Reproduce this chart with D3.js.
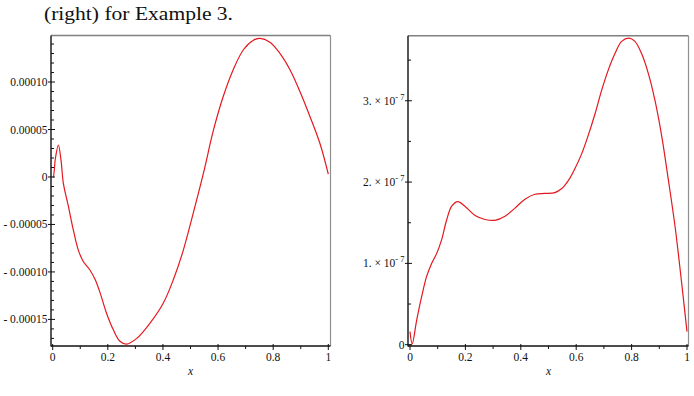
<!DOCTYPE html>
<html>
<head>
<meta charset="utf-8">
<script src="https://cdn.jsdelivr.net/npm/d3@7/dist/d3.min.js"></script>
<style>
  html, body { margin: 0; padding: 0; background: #fff; }
  svg { display: block; }
  text { font-family: "Liberation Serif", "Times New Roman", serif; fill: #111; }
</style>
</head>
<body>
<svg id="chart" width="694" height="396"></svg>
<script>
// ---------------- data ----------------
const captionText = "(right) for Example 3.";

// left panel: error curve
const leftX = [0, 0.002, 0.01, 0.0206, 0.03, 0.0387, 0.057, 0.075, 0.093, 0.111, 0.135, 0.154, 0.172, 0.196, 0.22, 0.244, 0.268,
  0.305, 0.353, 0.401, 0.438, 0.474, 0.51, 0.547, 0.583, 0.619, 0.655, 0.692, 0.728, 0.752, 0.788, 0.825, 0.861, 0.897, 0.933, 0.97, 1.0];
const leftY = [0, 0, 2.0e-5, 3.37e-5, 1.8e-5, -0.67e-5, -3.1e-5, -5.6e-5, -7.7e-5, -8.9e-5, -9.8e-5, -10.8e-5, -12.2e-5, -14.4e-5, -16.1e-5, -17.3e-5, -17.6e-5,
  -17.0e-5, -15.4e-5, -13.3e-5, -10.8e-5, -7.7e-5, -3.8e-5, 0.4e-5, 4.9e-5, 8.5e-5, 11.3e-5, 13.4e-5, 14.4e-5, 14.6e-5, 14.2e-5, 13.0e-5, 11.3e-5, 9.0e-5, 6.4e-5, 3.5e-5, 0.3e-5];

// right panel: error curve
const rightX = [0, 0.008, 0.024, 0.042, 0.06, 0.078, 0.096, 0.114, 0.132, 0.15, 0.172, 0.199, 0.235, 0.271, 0.307, 0.343, 0.379, 0.415, 0.451, 0.487, 0.523,
  0.548, 0.572, 0.596, 0.62, 0.644, 0.668, 0.692, 0.716, 0.74, 0.764, 0.791, 0.812, 0.836, 0.86, 0.884, 0.909, 0.933, 0.957, 0.981, 1.0];
const rightY = [0.16e-7, 0.01e-7, 0.30e-7, 0.59e-7, 0.84e-7, 1.0e-7, 1.12e-7, 1.29e-7, 1.53e-7, 1.70e-7, 1.76e-7, 1.70e-7, 1.59e-7, 1.54e-7, 1.53e-7, 1.58e-7, 1.68e-7, 1.79e-7, 1.85e-7, 1.86e-7, 1.87e-7,
  1.92e-7, 2.02e-7, 2.17e-7, 2.35e-7, 2.58e-7, 2.84e-7, 3.13e-7, 3.38e-7, 3.58e-7, 3.73e-7, 3.77e-7, 3.73e-7, 3.58e-7, 3.34e-7, 3.01e-7, 2.56e-7, 2.02e-7, 1.45e-7, 0.75e-7, 0.16e-7];

// ticks
const xMajorTicks = [0, 0.2, 0.4, 0.6, 0.8, 1];
const xMajorLabels = ["0", "0.2", "0.4", "0.6", "0.8", "1"];
const xMinorTicks = [0.1, 0.3, 0.5, 0.7, 0.9];
const leftYMajorTicks = [-0.00015, -0.0001, -0.00005, 0, 0.00005, 0.0001];
const leftYMajorLabels = ["- 0.00015", "- 0.00010", "- 0.00005", "0", "0.00005", "0.00010"];
const leftYMinorTicks = [-0.00017, -0.00016, -0.00014, -0.00013, -0.00012, -0.00011, -0.00009, -0.00008, -0.00007, -0.00006,
  -0.00004, -0.00003, -0.00002, -0.00001, 0.00001, 0.00002, 0.00003, 0.00004, 0.00006, 0.00007, 0.00008, 0.00009, 0.00011, 0.00012, 0.00013, 0.00014];
const rightYMajorTicks = [0, 1e-7, 2e-7, 3e-7];
const rightYMantissa = ["0", "1.", "2.", "3."];
const rightYExponent = "-7";
const rightYMinorTicks = [0.5e-7, 1.5e-7, 2.5e-7, 3.5e-7];
const xAxisTitle = "x";

// ---------------- drawing ----------------
const svg = d3.select("#chart");
const curveColor = "#e3191f";
const tickFont = "11.5px";

svg.append("text")
  .attr("x", 44).attr("y", 20)
  .attr("textLength", 189).attr("lengthAdjust", "spacingAndGlyphs")
  .style("font-size", "19px")
  .text(captionText);

function panel(opts) {
  const g = svg.append("g");
  const x = d3.scaleLinear().domain([0, 1]).range([opts.x0, opts.x1]);
  const y = d3.scaleLinear().domain(opts.yDomain).range([opts.bottom, opts.top]);
  const bl = opts.boxLeft, br = opts.boxRight;

  // box: top/right grey
  g.append("line").attr("x1", bl).attr("x2", br).attr("y1", opts.top).attr("y2", opts.top)
    .attr("stroke", "#808080").attr("stroke-width", 1.4);
  g.append("line").attr("x1", br).attr("x2", br).attr("y1", opts.top).attr("y2", opts.bottom)
    .attr("stroke", "#909090").attr("stroke-width", 1.2);

  // curve
  const line = d3.line().x(d => x(d[0])).y(d => y(d[1])).curve(d3.curveCatmullRom.alpha(0.5));
  const pts = opts.xs.map((v, i) => [v, opts.ys[i]]);
  g.append("path").datum(pts).attr("d", line)
    .attr("fill", "none").attr("stroke", curveColor).attr("stroke-width", 1.2);

  // left axis
  g.append("line").attr("x1", bl).attr("x2", bl).attr("y1", opts.top).attr("y2", opts.bottom + 0.5)
    .attr("stroke", "#111").attr("stroke-width", 1.4);
  g.selectAll(".ymin").data(opts.yMinor).enter().append("line")
    .attr("x1", bl).attr("x2", bl + 3).attr("y1", d => y(d)).attr("y2", d => y(d))
    .attr("stroke", "#111").attr("stroke-width", 1);
  g.selectAll(".ymaj").data(opts.yMajor).enter().append("line")
    .attr("x1", bl - 3).attr("x2", bl + 4).attr("y1", d => y(d)).attr("y2", d => y(d))
    .attr("stroke", "#111").attr("stroke-width", 1);

  // bottom axis
  g.append("line").attr("x1", bl).attr("x2", br).attr("y1", opts.bottom).attr("y2", opts.bottom)
    .attr("stroke", "#111").attr("stroke-width", 1.4);
  g.selectAll(".xmin").data(xMinorTicks).enter().append("line")
    .attr("x1", d => x(d)).attr("x2", d => x(d)).attr("y1", opts.bottom).attr("y2", opts.bottom + 3)
    .attr("stroke", "#111").attr("stroke-width", 1);
  g.selectAll(".xmaj").data(xMajorTicks).enter().append("line")
    .attr("x1", d => x(d)).attr("x2", d => x(d)).attr("y1", opts.bottom - 2).attr("y2", opts.bottom + 4)
    .attr("stroke", "#111").attr("stroke-width", 1);
  g.selectAll(".xlab").data(xMajorTicks).enter().append("text")
    .attr("x", d => x(d)).attr("y", opts.bottom + 15)
    .attr("text-anchor", "middle").style("font-size", tickFont)
    .text((d, i) => xMajorLabels[i]);
  g.append("text").attr("x", (x(0) + x(1)) / 2).attr("y", opts.bottom + 29)
    .attr("text-anchor", "middle").style("font-size", tickFont).style("font-style", "italic")
    .text(xAxisTitle);

  opts.yLabel(g, y, bl);
}

panel({
  x0: 52.7, x1: 328.3, boxLeft: 51, boxRight: 330.5, top: 35.5, bottom: 346,
  yDomain: [-0.000178, 0.000149],
  xs: leftX, ys: leftY, yMajor: leftYMajorTicks, yMinor: leftYMinorTicks,
  yLabel: (g, y, bl) => {
    g.selectAll(".ylab").data(leftYMajorTicks).enter().append("text")
      .attr("x", bl - 3.5).attr("y", d => y(d) + 4)
      .attr("text-anchor", "end").style("font-size", tickFont)
      .text((d, i) => leftYMajorLabels[i]);
  }
});

panel({
  x0: 410, x1: 687, boxLeft: 408, boxRight: 688.5, top: 35.7, bottom: 346,
  yDomain: [-0.016e-7, 3.8e-7],
  xs: rightX, ys: rightY, yMajor: rightYMajorTicks, yMinor: rightYMinorTicks,
  yLabel: (g, y, bl) => {
    rightYMajorTicks.forEach((d, i) => {
      const t = g.append("text").attr("x", bl - 3.5).attr("y", y(d) + 4)
        .attr("text-anchor", "end").style("font-size", tickFont);
      if (d === 0) {
        t.text(rightYMantissa[i]);
      } else {
        t.append("tspan").text(rightYMantissa[i] + " \u00d7 10");
        t.append("tspan").attr("dy", -5).style("font-size", "8.5px").text(rightYExponent.replace("-", "- "));
      }
    });
  }
});
</script>
</body>
</html>
